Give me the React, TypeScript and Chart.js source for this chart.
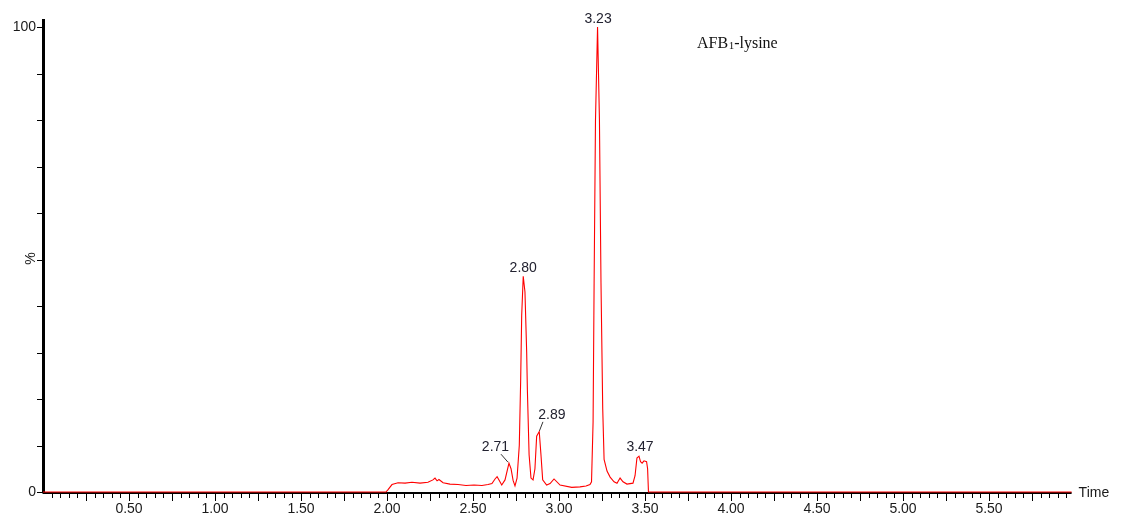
import React, { useEffect, useRef } from 'react';
import { Chart, registerables } from 'chart.js';

Chart.register(...registerables);

// Retention time (min) and relative intensity (%)
const times = [
  0, 1.994, 2.006, 2.029, 2.064, 2.105, 2.145, 2.192, 2.238, 2.267, 2.279, 2.291, 2.302, 2.326,
  2.366, 2.413, 2.459, 2.506, 2.552, 2.587, 2.61, 2.628, 2.64, 2.651, 2.667, 2.686, 2.709, 2.721,
  2.733, 2.744, 2.756, 2.769, 2.777, 2.783, 2.792, 2.802, 2.812, 2.816, 2.826, 2.837, 2.849, 2.86,
  2.87, 2.885, 2.895, 2.905, 2.928, 2.948, 2.971, 3.006, 3.074, 3.122, 3.157, 3.18, 3.189, 3.198,
  3.204, 3.212, 3.224, 3.235, 3.244, 3.254, 3.262, 3.279, 3.297, 3.32, 3.337, 3.355, 3.372, 3.395,
  3.43, 3.442, 3.453, 3.465, 3.474, 3.483, 3.494, 3.509, 3.515, 3.52, 5.98,
];
const intensity = [
  0, 0, 0.5, 1.6, 2.0, 1.9, 2.1, 1.9, 2.1, 2.6, 3.0, 2.4, 2.7, 2.0,
  1.7, 1.6, 1.4, 1.5, 1.4, 1.6, 1.8, 2.8, 3.3, 2.6, 1.5, 2.6, 6.2, 5.0,
  2.5, 1.3, 3.0, 10, 24, 38, 46.4, 43, 30, 22, 8, 3, 2.6, 5,
  12, 13, 8, 2.6, 1.5, 1.8, 2.8, 1.5, 1.0, 1.1, 1.3, 1.6, 2.2, 15,
  45, 80, 100, 80, 45, 18, 7, 4.5, 3.2, 2.2, 1.9, 3.0, 2.2, 1.7,
  1.9, 3.5, 7.3, 7.7, 6.5, 6.2, 6.7, 6.5, 5.0, 0, 0,
];

// Peak annotations
const peakTimes = [2.709, 2.792, 2.885, 3.224, 3.465];
const peakHeights = [6.2, 46.4, 13, 100, 7.7];
const peakLabels = ['2.71', '2.80', '2.89', '3.23', '3.47'];

// Axis ticks
const xTickValues = [0.5, 1.0, 1.5, 2.0, 2.5, 3.0, 3.5, 4.0, 4.5, 5.0, 5.5];
const xTickLabels = ['0.50', '1.00', '1.50', '2.00', '2.50', '3.00', '3.50', '4.00', '4.50', '5.00', '5.50'];
const yLabelValues = [0, 100];
const yLabels = ['0', '100'];
const xMin = 0;
const xMax = 5.98;
const yMin = 0;
const yMax = 100;
const titleMain = 'AFB';
const titleSub = '1';
const titleRest = '-lysine';
const xAxisTitle = 'Time';
const yAxisTitle = '%';

const SANS = 'Arial, "Liberation Sans", sans-serif';
const SERIF = '"Times New Roman", "Liberation Serif", serif';

// label offsets relative to peak apex [dx, dy, leader?]
const labelLayout: Array<{ dx: number; dy: number; leader?: [number, number, number, number] }> = [
  { dx: -13.5, dy: -16, leader: [-8, -9, -1, -1] },
  { dx: 0, dy: -8.5 },
  { dx: 12.7, dy: -16.7, leader: [3.7, -9.7, 0.2, -0.7] },
  { dx: 0.5, dy: -7.5 },
  { dx: 1, dy: -9 },
];

const axesPlugin = {
  id: 'msAxes',
  beforeDatasetsDraw(chart: any) {
    const { ctx, chartArea, scales } = chart;
    const x = scales.x;
    const y = scales.y;
    const x0 = x.getPixelForValue(xMin);
    const xEnd = x.getPixelForValue(xMax);
    const yBase = y.getPixelForValue(0);
    ctx.save();
    // x axis line
    ctx.strokeStyle = '#000';
    ctx.lineWidth = 2;
    ctx.beginPath();
    ctx.moveTo(x0, yBase + 1);
    ctx.lineTo(xEnd, yBase + 1);
    ctx.stroke();
    // x ticks
    ctx.lineWidth = 1;
    for (let i = 1; i * 0.05 <= xMax + 1e-9; i++) {
      const v = i * 0.05;
      const px = Math.round(x.getPixelForValue(v)) + 0.5;
      const major = i % 5 === 0;
      ctx.beginPath();
      ctx.moveTo(px, yBase + 2);
      ctx.lineTo(px, yBase + (major ? 9 : 6));
      ctx.stroke();
    }
    // y ticks
    for (let v = 0; v <= 100; v += 10) {
      const py = Math.round(y.getPixelForValue(v)) + 0.5;
      ctx.beginPath();
      ctx.moveTo(x0 - 6, py);
      ctx.lineTo(x0, py);
      ctx.stroke();
    }
    // y axis thick line
    ctx.lineWidth = 3;
    ctx.beginPath();
    ctx.moveTo(x0 + 0.5, chartArea.top - 8);
    ctx.lineTo(x0 + 0.5, yBase + 1.5);
    ctx.stroke();
    ctx.restore();
  },
  afterDatasetsDraw(chart: any) {
    const { ctx, scales } = chart;
    const x = scales.x;
    const y = scales.y;
    const x0 = x.getPixelForValue(xMin);
    const xEnd = x.getPixelForValue(xMax);
    const yBase = y.getPixelForValue(0);
    ctx.save();
    ctx.fillStyle = '#1a1a1a';
    ctx.font = `14px ${SANS}`;
    // x tick labels
    ctx.textAlign = 'center';
    ctx.textBaseline = 'middle';
    xTickValues.forEach((v, i) => {
      ctx.fillText(xTickLabels[i], x.getPixelForValue(v), yBase + 17);
    });
    // y labels
    ctx.textAlign = 'right';
    yLabelValues.forEach((v, i) => {
      ctx.fillText(yLabels[i], x0 - 7, y.getPixelForValue(v));
    });
    // axis titles
    ctx.textAlign = 'left';
    ctx.fillText(xAxisTitle, xEnd + 7, yBase + 1);
    ctx.save();
    ctx.translate(x0 - 12, y.getPixelForValue(50) - 1);
    ctx.rotate(-Math.PI / 2);
    ctx.textAlign = 'center';
    ctx.fillText(yAxisTitle, 0, 0);
    ctx.restore();

    // peak labels
    ctx.textAlign = 'center';
    ctx.textBaseline = 'middle';
    peakTimes.forEach((t, i) => {
      const px = x.getPixelForValue(t);
      const py = y.getPixelForValue(peakHeights[i]);
      const lay = labelLayout[i];
      ctx.fillStyle = '#222230';
      ctx.fillText(peakLabels[i], px + lay.dx, py + lay.dy);
      if (lay.leader) {
        ctx.strokeStyle = '#333';
        ctx.lineWidth = 1;
        ctx.beginPath();
        ctx.moveTo(px + lay.leader[0], py + lay.leader[1]);
        ctx.lineTo(px + lay.leader[2], py + lay.leader[3]);
        ctx.stroke();
      }
    });

    // compound title
    ctx.fillStyle = '#111';
    ctx.textAlign = 'left';
    ctx.textBaseline = 'alphabetic';
    let tx = 697;
    const ty = 48;
    ctx.font = `16px ${SERIF}`;
    ctx.fillText(titleMain, tx, ty);
    tx += ctx.measureText(titleMain).width + 0.5;
    ctx.font = `11px ${SERIF}`;
    ctx.fillText(titleSub, tx, ty + 1);
    tx += ctx.measureText(titleSub).width;
    ctx.font = `16px ${SERIF}`;
    ctx.fillText(titleRest, tx, ty);
    ctx.restore();
  },
};

export default function App() {
  const canvasRef = useRef<HTMLCanvasElement | null>(null);

  useEffect(() => {
    if (!canvasRef.current) return;
    const chart = new Chart(canvasRef.current, {
      type: 'line',
      data: {
        datasets: [
          {
            data: times.map((t, i) => ({ x: t, y: intensity[i] })),
            borderColor: '#ff0000',
            borderWidth: 1.1,
            pointRadius: 0,
            tension: 0,
            fill: false,
            clip: false as any,
          },
        ],
      },
      options: {
        responsive: false,
        animation: false,
        devicePixelRatio: 1,
        layout: { padding: { left: 43, right: 49.4, top: 27, bottom: 27 } },
        scales: {
          x: { type: 'linear', min: xMin, max: xMax, display: false },
          y: { type: 'linear', min: yMin, max: yMax, display: false },
        },
        plugins: { legend: { display: false }, tooltip: { enabled: false } },
      },
      plugins: [axesPlugin],
    });
    return () => chart.destroy();
  }, []);

  return (
    <div style={{ position: 'fixed', left: 0, top: 0, width: 1121, height: 519, background: '#fff' }}>
      <canvas ref={canvasRef} width={1121} height={519} style={{ width: 1121, height: 519 }} />
    </div>
  );
}
